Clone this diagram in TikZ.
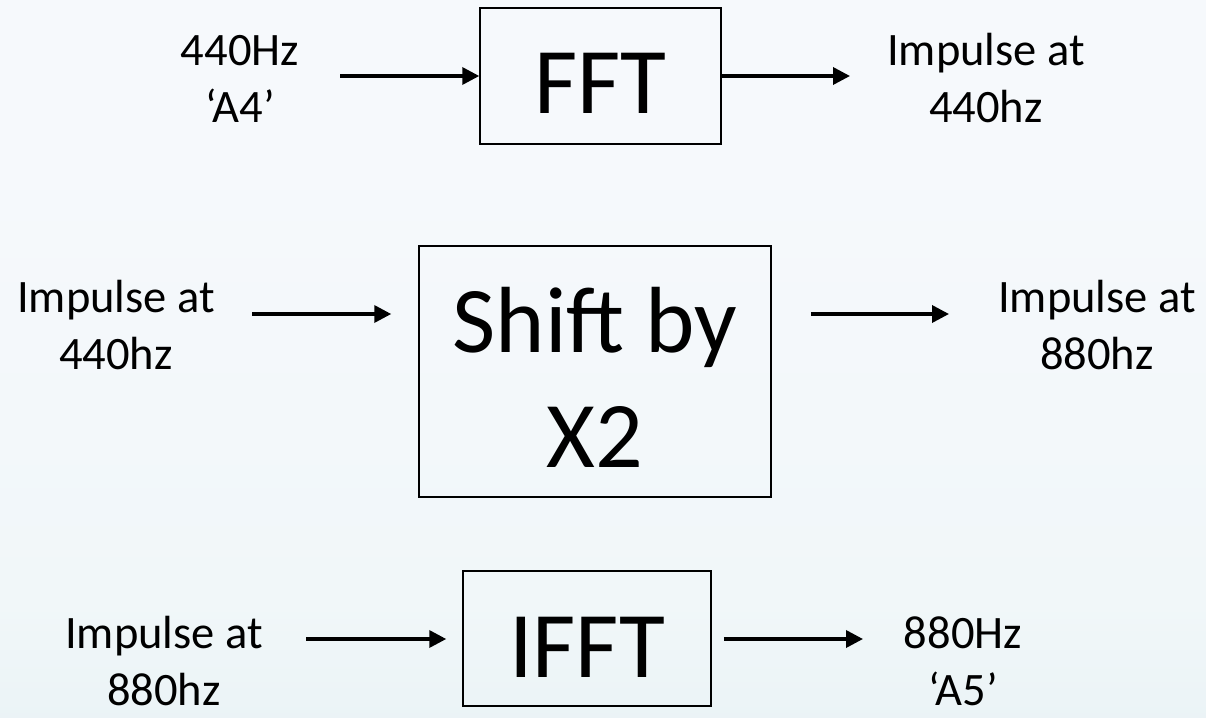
\documentclass[tikz,border=0pt]{standalone}
\usepackage{fontspec}
\setmainfont{Carlito}
\usetikzlibrary{arrows.meta}
\definecolor{bgtop}{HTML}{F6F9FC}
\definecolor{bgmid}{HTML}{F1F7F9}
\definecolor{bgbot}{HTML}{D8E8EE}
\pgfdeclareverticalshading{bgshade}{100bp}{color(0bp)=(bgbot); color(33bp)=(bgmid); color(65bp)=(bgtop); color(100bp)=(bgtop)}
\begin{document}
\begin{tikzpicture}[x=1pt,y=-1pt,
  lbl/.style={font=\fontsize{46.5}{57}\selectfont, align=center, inner sep=0pt, anchor=base},
  blk/.style={draw=black, line width=1.5pt, inner sep=0pt, font=\fontsize{94}{115}\selectfont, align=center},
  arr/.style={line width=3.5pt, -{Triangle[length=17pt,width=17pt]}}]
\useasboundingbox (0,0) rectangle (1206,717);
\shade[shading=bgshade] (0,0) rectangle (1206,717);

% blocks
\node[blk, minimum width=241pt, minimum height=136pt, text height=74pt, text depth=0pt] (fft) at (600.5,76) {FFT};
\node[blk, minimum width=352pt, minimum height=251pt, text height=191pt, text depth=0pt] (shift) at (595,371.5) {Shift by\\X2};
\node[blk, minimum width=248pt, minimum height=135pt, text height=77pt, text depth=0pt] (ifft) at (587,638.5) {IFFT};

% labels (anchored at the baseline of the last line)
\node[lbl] (in1) at (240,122) {440Hz\\‘A4’};
\node[lbl] (out1) at (986,122) {Impulse at\\440hz};
\node[lbl] (in2) at (116,369) {Impulse at\\440hz};
\node[lbl] (out2) at (1097,369) {Impulse at\\880hz};
\node[lbl] (in3) at (164,705) {Impulse at\\880hz};
\node[lbl] (out3) at (963,705) {880Hz\\‘A5’};

% free connector ends
\coordinate (a1s) at (340,76);
\coordinate (a2e) at (850,76);
\coordinate (a3s) at (252,314);
\coordinate (a4e) at (949,314);
\coordinate (a5s) at (306,639);
\coordinate (a6e) at (863,639);

% connectors
\draw[arr] (a1s) -- (a1s -| fft.west);
\draw[arr] (a2e -| fft.east) -- (a2e);
\draw[arr, shorten >=27pt] (a3s) -- (a3s -| shift.west);
\draw[arr, shorten <=39pt] (a4e -| shift.east) -- (a4e);
\draw[arr, shorten >=16pt] (a5s) -- (a5s -| ifft.west);
\draw[arr, shorten <=12pt] (a6e -| ifft.east) -- (a6e);
\end{tikzpicture}
\end{document}
